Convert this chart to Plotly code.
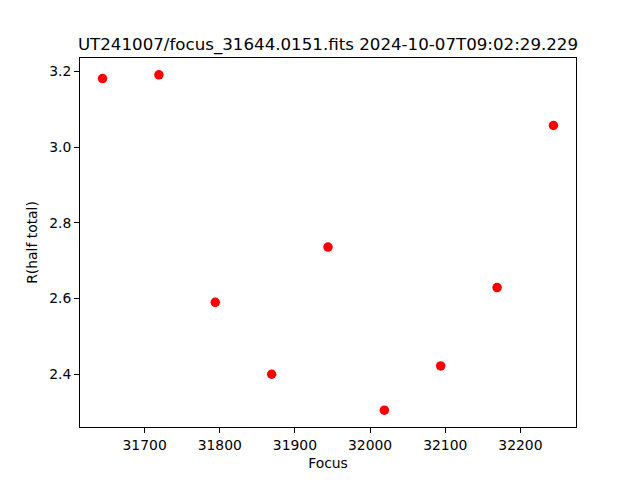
import plotly.graph_objects as go

focus = [31644, 31719, 31794, 31869, 31944, 32019, 32094, 32169, 32244]
r_half_total = [3.181, 3.191, 2.590, 2.400, 2.736, 2.305, 2.422, 2.629, 3.057]
x_ticks = [31700, 31800, 31900, 32000, 32100, 32200]
y_ticks = [2.4, 2.6, 2.8, 3.0, 3.2]
title_text = "UT241007/focus_31644.0151.fits 2024-10-07T09:02:29.229"

fig = go.Figure()
fig.add_trace(go.Scatter(x=focus, y=r_half_total, mode="markers",
                         marker=dict(color="red", size=9.5, line=dict(width=0)),
                         showlegend=False))

fnt = "DejaVu Sans"
xmin, xmax = min(focus), max(focus)
ymin, ymax = min(r_half_total), max(r_half_total)
xm = (xmax - xmin) * 0.05
ym = (ymax - ymin) * 0.05

axis_common = dict(showline=True, linecolor="black", linewidth=1, mirror=True,
                   ticks="outside", ticklen=5, tickwidth=1, tickcolor="black",
                   showgrid=False, zeroline=False,
                   tickfont=dict(family=fnt, size=13.9, color="black"))

# page body has an 8px default margin; compensate so plot area is at 80..576 x 58..427
fig.update_layout(
    width=640, height=480,
    margin=dict(l=72, r=72, t=50, b=61),
    paper_bgcolor="white", plot_bgcolor="white",
    font=dict(family=fnt, color="black"),
    title=dict(text=title_text, x=(72 + 568) / 2 / 640, xanchor="center",
               y=1 - 36 / 480, yanchor="middle", yref="container",
               font=dict(family=fnt, size=16.67, color="black")),
    xaxis=dict(range=[xmin - xm, xmax + xm], tickvals=x_ticks,
               ticktext=[str(v) for v in x_ticks],
               title=dict(text="Focus", font=dict(family=fnt, size=13.9), standoff=6),
               **axis_common),
    yaxis=dict(range=[ymin - ym, ymax + ym], tickvals=y_ticks,
               ticktext=[f"{v:.1f}" for v in y_ticks],
               title=dict(text="R(half total)", font=dict(family=fnt, size=13.9), standoff=8),
               **axis_common),
)

fig.write_html("out.html")
